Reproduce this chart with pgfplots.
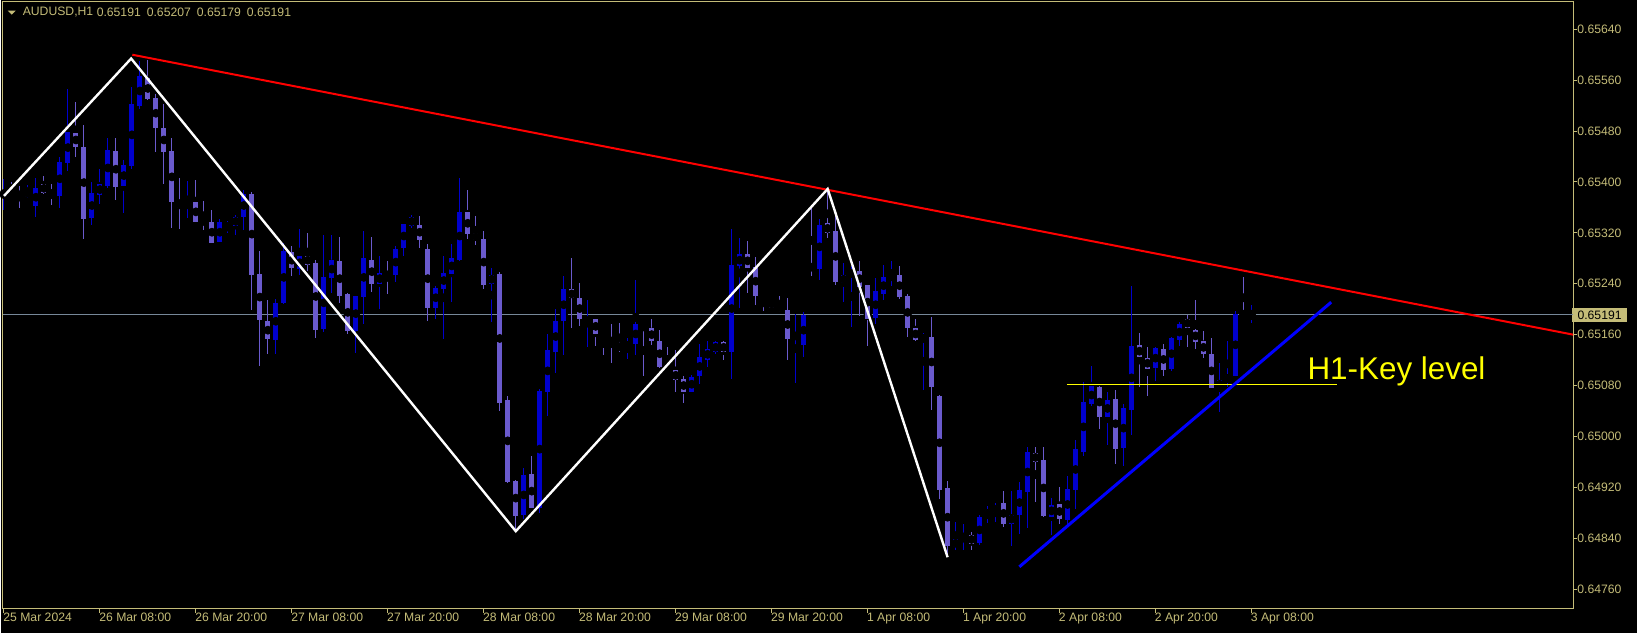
\documentclass[border=0pt]{standalone}
\usepackage{pgfplots}
\pgfplotsset{compat=1.18}
\usepackage{pgfplotstable}
\usepackage{fontspec}
\setmainfont{Liberation Sans}
\definecolor{frame}{RGB}{196,188,120}
\definecolor{bull}{RGB}{0,0,205}
\definecolor{bear}{RGB}{106,90,205}
\definecolor{bidline}{RGB}{119,136,153}
\definecolor{keyyellow}{RGB}{255,255,0}
\definecolor{pricebox}{RGB}{196,188,120}

\pgfplotstableread{
i O H L C
0 0.65378 0.65404 0.65355 0.65389
1 0.65391 0.65401 0.65380 0.65381
2 0.65384 0.65394 0.65360 0.65377
3 0.65377 0.65397 0.65376 0.65388
4 0.65363 0.65407 0.65346 0.65391
5 0.65397 0.65410 0.65381 0.65383
6 0.65386 0.65397 0.65363 0.65379
7 0.65379 0.65439 0.65360 0.65433
8 0.65430 0.65546 0.65418 0.65479
9 0.65479 0.65526 0.65440 0.65456
10 0.65457 0.65491 0.65313 0.65344
11 0.65344 0.65400 0.65333 0.65383
12 0.65380 0.65422 0.65367 0.65397
13 0.65394 0.65470 0.65392 0.65452
14 0.65449 0.65469 0.65372 0.65393
15 0.65394 0.65436 0.65352 0.65427
16 0.65426 0.65551 0.65421 0.65523
17 0.65520 0.65590 0.65514 0.65567
18 0.65565 0.65591 0.65529 0.65531
19 0.65532 0.65539 0.65448 0.65485
20 0.65485 0.65524 0.65399 0.65448
21 0.65449 0.65469 0.65327 0.65369
22 0.65370 0.65406 0.65327 0.65361
23 0.65360 0.65402 0.65344 0.65369
24 0.65370 0.65403 0.65338 0.65338
25 0.65339 0.65370 0.65325 0.65338
26 0.65339 0.65358 0.65305 0.65306
27 0.65307 0.65341 0.65305 0.65338
28 0.65329 0.65339 0.65319 0.65334
29 0.65332 0.65348 0.65316 0.65347
30 0.65346 0.65389 0.65326 0.65382
31 0.65383 0.65384 0.65199 0.65256
32 0.65257 0.65292 0.65110 0.65184
33 0.65183 0.65215 0.65130 0.65154
34 0.65153 0.65218 0.65131 0.65211
35 0.65210 0.65305 0.65208 0.65292
36 0.65290 0.65300 0.65253 0.65265
37 0.65263 0.65326 0.65254 0.65284
38 0.65285 0.65320 0.65261 0.65271
39 0.65274 0.65279 0.65155 0.65169
40 0.65169 0.65317 0.65164 0.65251
41 0.65250 0.65318 0.65226 0.65279
42 0.65277 0.65314 0.65210 0.65221
43 0.65224 0.65226 0.65161 0.65166
44 0.65167 0.65222 0.65133 0.65221
45 0.65219 0.65323 0.65177 0.65281
46 0.65279 0.65314 0.65227 0.65241
47 0.65240 0.65284 0.65200 0.65257
48 0.65257 0.65277 0.65224 0.65253
49 0.65254 0.65301 0.65243 0.65296
50 0.65297 0.65336 0.65285 0.65334
51 0.65332 0.65350 0.65329 0.65345
52 0.65334 0.65347 0.65297 0.65311
53 0.65296 0.65303 0.65182 0.65203
54 0.65203 0.65237 0.65185 0.65235
55 0.65234 0.65284 0.65154 0.65259
56 0.65256 0.65303 0.65212 0.65282
57 0.65279 0.65408 0.65276 0.65354
58 0.65353 0.65387 0.65311 0.65319
59 0.65320 0.65348 0.65303 0.65309
60 0.65312 0.65323 0.65232 0.65239
61 0.65240 0.65265 0.65181 0.65254
62 0.65255 0.65259 0.65041 0.65053
63 0.65059 0.65064 0.64928 0.64930
64 0.64932 0.64933 0.64851 0.64877
65 0.64876 0.64951 0.64870 0.64940
66 0.64941 0.64969 0.64887 0.64888
67 0.64888 0.65075 0.64879 0.65072
68 0.65071 0.65160 0.65031 0.65138
69 0.65133 0.65202 0.65100 0.65183
70 0.65182 0.65254 0.65129 0.65233
71 0.65232 0.65281 0.65171 0.65218
72 0.65218 0.65241 0.65173 0.65184
73 0.65181 0.65215 0.65141 0.65185
74 0.65185 0.65185 0.65143 0.65162
75 0.65163 0.65165 0.65129 0.65154
76 0.65152 0.65177 0.65115 0.65149
77 0.65144 0.65178 0.65132 0.65141
78 0.65141 0.65156 0.65122 0.65147
79 0.65146 0.65248 0.65129 0.65177
80 0.65174 0.65175 0.65096 0.65171
81 0.65171 0.65185 0.65144 0.65151
82 0.65152 0.65167 0.65107 0.65111
83 0.65112 0.65141 0.65103 0.65104
84 0.65105 0.65138 0.65071 0.65089
85 0.65090 0.65097 0.65054 0.65071
86 0.65071 0.65097 0.65070 0.65095
87 0.65096 0.65147 0.65083 0.65125
88 0.65122 0.65152 0.65111 0.65139
89 0.65133 0.65150 0.65130 0.65149
90 0.65149 0.65150 0.65121 0.65133
91 0.65134 0.65328 0.65091 0.65270
92 0.65269 0.65314 0.65203 0.65287
93 0.65287 0.65308 0.65226 0.65265
94 0.65266 0.65282 0.65206 0.65221
95 0.65221 0.65223 0.65198 0.65212
96 0.65215 0.65216 0.65203 0.65204
97 0.65207 0.65222 0.65197 0.65198
98 0.65200 0.65218 0.65121 0.65155
99 0.65155 0.65193 0.65085 0.65163
100 0.65144 0.65196 0.65126 0.65191
101 0.65270 0.65364 0.65253 0.65264
102 0.65264 0.65342 0.65247 0.65334
103 0.65336 0.65389 0.65313 0.65320
104 0.65324 0.65351 0.65239 0.65243
105 0.65242 0.65273 0.65212 0.65254
106 0.65254 0.65270 0.65174 0.65260
107 0.65262 0.65277 0.65191 0.65237
108 0.65238 0.65239 0.65144 0.65185
109 0.65187 0.65249 0.65177 0.65229
110 0.65225 0.65271 0.65215 0.65251
111 0.65248 0.65277 0.65237 0.65255
112 0.65255 0.65268 0.65217 0.65220
113 0.65221 0.65224 0.65157 0.65171
114 0.65172 0.65186 0.65151 0.65152
115 0.65152 0.65163 0.65074 0.65156
116 0.65156 0.65189 0.65042 0.65078
117 0.65065 0.65065 0.64901 0.64918
118 0.64919 0.64930 0.64810 0.64827
119 0.64827 0.64866 0.64822 0.64839
120 0.64838 0.64863 0.64822 0.64845
121 0.64845 0.64850 0.64822 0.64832
122 0.64833 0.64878 0.64830 0.64875
123 0.64874 0.64891 0.64865 0.64886
124 0.64880 0.64896 0.64866 0.64891
125 0.64897 0.64915 0.64858 0.64863
126 0.64863 0.64915 0.64829 0.64877
127 0.64876 0.64929 0.64847 0.64916
128 0.64913 0.64985 0.64858 0.64976
129 0.64976 0.64984 0.64898 0.64961
130 0.64962 0.64984 0.64874 0.64875
131 0.64874 0.64904 0.64845 0.64893
132 0.64894 0.64921 0.64863 0.64870
133 0.64869 0.64937 0.64861 0.64918
134 0.64916 0.64995 0.64886 0.64980
135 0.64976 0.65086 0.64970 0.65054
136 0.65052 0.65111 0.65049 0.65080
137 0.65078 0.65080 0.65012 0.65031
138 0.65031 0.65071 0.64987 0.65059
139 0.65061 0.65073 0.64957 0.64982
140 0.64982 0.65052 0.64954 0.65045
141 0.65043 0.65237 0.65003 0.65144
142 0.65144 0.65163 0.65078 0.65125
143 0.65125 0.65141 0.65064 0.65107
144 0.65108 0.65142 0.65088 0.65139
145 0.65139 0.65145 0.65096 0.65106
146 0.65108 0.65159 0.65105 0.65156
147 0.65152 0.65182 0.65143 0.65177
148 0.65186 0.65191 0.65141 0.65172
149 0.65169 0.65215 0.65139 0.65149
150 0.65150 0.65167 0.65124 0.65130
151 0.65131 0.65155 0.65077 0.65078
152 0.65077 0.65117 0.65039 0.65089
153 0.65086 0.65150 0.65078 0.65097
154 0.65096 0.65197 0.65095 0.65194
155 0.65196 0.65251 0.65187 0.65190
156 0.65191 0.65207 0.65179 0.65191
}\candles

\begin{document}
\begin{tikzpicture}
\fill[black] (0,0) rectangle (818.5pt,316.5pt);
\begin{axis}[
  at={(1pt,12pt)}, anchor=south west,
  scale only axis, width=785.5pt, height=303.5pt,
  xmin=-0.1625, xmax=196.21, ymin=0.647291, ymax=0.656829,
  axis background/.style={fill=black},
  axis line style={draw=frame, line width=0.5pt},
  clip mode=individual,
  scaled y ticks=false,
  xtick={0,12,24,36,48,60,72,84,96,108,120,132,144,156},
  xticklabels={25 Mar 2024,26 Mar 08:00,26 Mar 20:00,27 Mar 08:00,27 Mar 20:00,28 Mar 08:00,28 Mar 20:00,29 Mar 08:00,29 Mar 20:00,1 Apr 08:00,1 Apr 20:00,2 Apr 08:00,2 Apr 20:00,3 Apr 08:00},
  ytick={0.6476,0.6484,0.6492,0.65,0.6508,0.6516,0.6524,0.6532,0.654,0.6548,0.6556,0.6564},
  xtick pos=left, ytick pos=right, yticklabel pos=right,
  tick align=outside, major tick length=2pt,
  tick style={draw=frame, line width=0.5pt},
  /pgf/number format/assume math mode=true,
  tick label style={font=\fontsize{6.1}{7.3}\selectfont, text=frame},
  yticklabel style={anchor=west, inner sep=0pt,
    /pgf/number format/fixed, /pgf/number format/fixed zerofill, /pgf/number format/precision=5},
  xticklabel style={anchor=north west, inner sep=0pt, xshift=-0.5pt},
  extra y ticks={0.65191},
  extra y tick style={yticklabel style={fill=pricebox, text=black, inner xsep=2.75pt, inner ysep=1.3pt, xshift=-2.7pt}},
]
\addplot[bidline, line width=0.5pt] coordinates {(-0.1625,0.65191) (196.21,0.65191)};
% wicks
\addplot[only marks, mark=none, error bars/.cd, y dir=both, y explicit, error mark=none,
  error bar style={draw=bull, line width=0.5pt}]
  table[x=i, y expr={\thisrow{C}>=\thisrow{O} ? (\thisrow{H}+\thisrow{L})/2 : nan},
        y error expr={(\thisrow{H}-\thisrow{L})/2}] {\candles};
\addplot[only marks, mark=none, error bars/.cd, y dir=both, y explicit, error mark=none,
  error bar style={draw=bear, line width=0.5pt}]
  table[x=i, y expr={\thisrow{C}<\thisrow{O} ? (\thisrow{H}+\thisrow{L})/2 : nan},
        y error expr={(\thisrow{H}-\thisrow{L})/2}] {\candles};
% bodies
\addplot[only marks, mark=none, error bars/.cd, y dir=both, y explicit, error mark=none,
  error bar style={draw=bull, line width=2.5pt}]
  table[x=i, y expr={\thisrow{C}>=\thisrow{O} ? (\thisrow{O}+\thisrow{C})/2 : nan},
        y error expr={max(abs(\thisrow{C}-\thisrow{O})/2,0.000008)}] {\candles};
\addplot[only marks, mark=none, error bars/.cd, y dir=both, y explicit, error mark=none,
  error bar style={draw=bear, line width=2.5pt}]
  table[x=i, y expr={\thisrow{C}<\thisrow{O} ? (\thisrow{O}+\thisrow{C})/2 : nan},
        y error expr={max(abs(\thisrow{C}-\thisrow{O})/2,0.000008)}] {\candles};
% key level
\addplot[keyyellow, line width=0.6pt] coordinates {(132.9,0.65081) (166.7,0.65081)};
% red resistance trendline
\addplot[red, line width=1pt] coordinates {(16.05,0.65600) (196.21,0.65160)};
% white zigzag
\addplot[white, line width=1.2pt] coordinates {(0,0.65378) (15.9,0.65594) (64,0.64851) (103,0.65389) (118,0.64810)};
% blue support trendline
\addplot[blue, line width=1.5pt] coordinates {(126.97,0.64795) (165.97,0.65211)};
\end{axis}
% title
\fill[frame] (3.5pt,311.15pt) -- (7.5pt,311.15pt) -- (5.5pt,309.15pt) -- cycle;
\node[anchor=west, inner sep=0pt, text=frame, font=\fontsize{6.1}{7.3}\selectfont] at (10.85pt,310.25pt) {AUDUSD,H1};
\node[anchor=west, inner sep=0pt, text=frame, font=\fontsize{6.1}{7.3}\selectfont] at (47.85pt,310.25pt) {0.65191\hspace{3pt}0.65207\hspace{3pt}0.65179\hspace{3pt}0.65191};
\node[anchor=base west, inner sep=0pt, text=keyyellow, font=\fontsize{15.7}{18}\selectfont] at (653.5pt,126.5pt) {H1-Key level};
\end{tikzpicture}
\end{document}
